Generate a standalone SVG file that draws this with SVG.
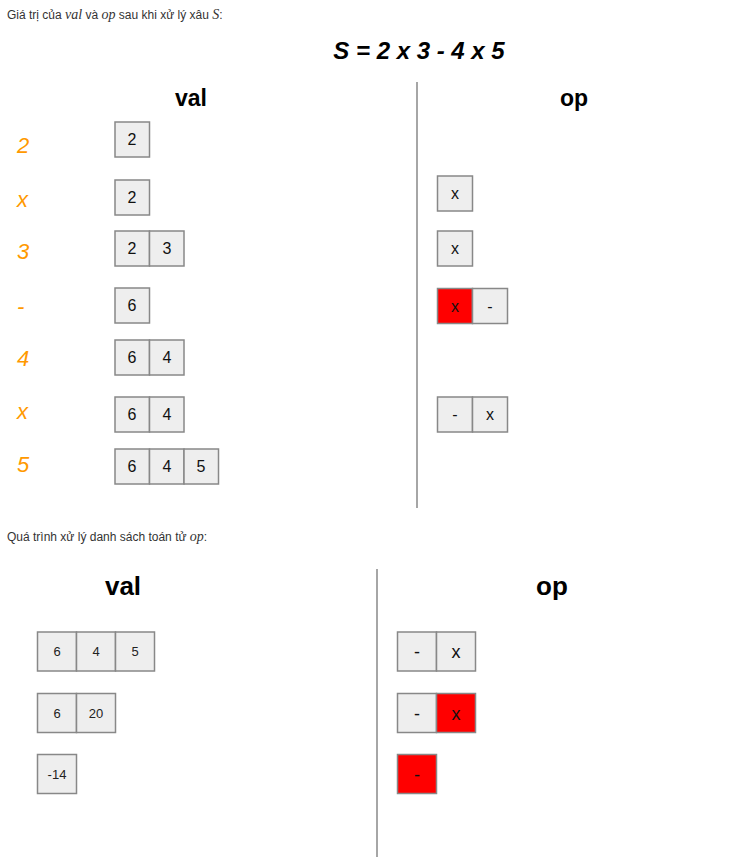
<svg xmlns="http://www.w3.org/2000/svg" width="755" height="857" viewBox="0 0 755 857">
<style>
.cap{font-family:"Liberation Sans",Arial,sans-serif;font-size:12px;fill:#333}
.m{font-family:"Liberation Serif","DejaVu Serif",serif;font-style:italic;font-size:14px}
.hd{font-family:"Liberation Sans",Arial,sans-serif;font-weight:bold;fill:#000;text-anchor:middle}
.lb{font-family:"Liberation Sans",Arial,sans-serif;font-style:italic;font-size:22px;fill:#ff9900}
.c{fill:#eeeeee;stroke:#888;stroke-width:1.5}
.r{fill:#ff0000;stroke:#888;stroke-width:1.5}
.t{font-family:"Liberation Sans",Arial,sans-serif;font-size:16px;fill:#111;text-anchor:middle}
.tb{font-family:"Liberation Sans",Arial,sans-serif;font-size:18px;fill:#111;text-anchor:middle}
.ts{font-family:"Liberation Sans",Arial,sans-serif;font-size:13px;fill:#222;text-anchor:middle}
.ln{stroke:#888;stroke-width:1.5}
</style>
<text class="cap" x="7" y="19">Giá trị của <tspan class="m">val</tspan> và <tspan class="m">op</tspan> sau khi xử lý xâu <tspan class="m">S</tspan>:</text>
<text class="hd" x="419" y="59" font-size="24" font-style="italic">S = 2 x 3 - 4 x 5</text>
<text class="hd" x="191" y="106" font-size="23">val</text>
<text class="hd" x="574" y="106" font-size="23">op</text>
<line class="ln" x1="417" y1="82" x2="417" y2="508"/>
<g id="labels">
<text class="lb" x="17" y="153">2</text>
<text class="lb" x="17" y="207">x</text>
<text class="lb" x="17" y="259">3</text>
<text class="lb" x="17" y="314">-</text>
<text class="lb" x="17" y="366">4</text>
<text class="lb" x="17" y="419">x</text>
<text class="lb" x="17" y="472">5</text>
</g>
<g id="val1"><rect class="c" x="115" y="122" width="34.5" height="35"/><text class="t" x="132" y="145">2</text></g>
<g id="val2"><rect class="c" x="115" y="180" width="34.5" height="35"/><text class="t" x="132" y="203">2</text></g>
<g id="val3"><rect class="c" x="115" y="231" width="34.5" height="35"/><rect class="c" x="149.5" y="231" width="34.5" height="35"/><text class="t" x="132" y="254">2</text><text class="t" x="167" y="254">3</text></g>
<g id="val4"><rect class="c" x="115" y="288" width="34.5" height="35"/><text class="t" x="132" y="311">6</text></g>
<g id="val5"><rect class="c" x="115" y="340" width="34.5" height="35"/><rect class="c" x="149.5" y="340" width="34.5" height="35"/><text class="t" x="132" y="363">6</text><text class="t" x="167" y="363">4</text></g>
<g id="val6"><rect class="c" x="115" y="397" width="34.5" height="35"/><rect class="c" x="149.5" y="397" width="34.5" height="35"/><text class="t" x="132" y="420">6</text><text class="t" x="167" y="420">4</text></g>
<g id="val7"><rect class="c" x="115" y="449" width="34.5" height="35"/><rect class="c" x="149.5" y="449" width="34.5" height="35"/><rect class="c" x="184" y="449" width="34.5" height="35"/><text class="t" x="132" y="472">6</text><text class="t" x="167" y="472">4</text><text class="t" x="201" y="472">5</text></g>
<g id="op2"><rect class="c" x="437.5" y="176" width="35" height="35"/><text class="t" x="455" y="199">x</text></g>
<g id="op3"><rect class="c" x="437.5" y="231" width="35" height="35"/><text class="t" x="455" y="254">x</text></g>
<g id="op4"><rect class="r" x="437.5" y="288.5" width="35" height="35"/><rect class="c" x="472.5" y="288.5" width="35" height="35"/><text class="t" x="455" y="312">x</text><text class="t" x="490" y="312">-</text></g>
<g id="op6"><rect class="c" x="437.5" y="397" width="35" height="35"/><rect class="c" x="472.5" y="397" width="35" height="35"/><text class="t" x="455" y="420">-</text><text class="t" x="490" y="420">x</text></g>
<text class="cap" x="7" y="541">Quá trình xử lý danh sách toán tử <tspan class="m">op</tspan>:</text>
<text class="hd" x="123" y="595" font-size="26">val</text>
<text class="hd" x="552" y="595" font-size="26">op</text>
<line class="ln" x1="377" y1="569" x2="377" y2="857"/>
<g id="bval1"><rect class="c" x="37.5" y="632" width="39" height="39"/><rect class="c" x="76.5" y="632" width="39" height="39"/><rect class="c" x="115.5" y="632" width="39" height="39"/><text class="ts" x="57" y="656">6</text><text class="ts" x="96" y="656">4</text><text class="ts" x="135" y="656">5</text></g>
<g id="bval2"><rect class="c" x="37.5" y="693.5" width="39" height="39"/><rect class="c" x="76.5" y="693.5" width="39" height="39"/><text class="ts" x="57" y="717.5">6</text><text class="ts" x="96" y="717.5">20</text></g>
<g id="bval3"><rect class="c" x="37.5" y="754.5" width="39" height="39"/><text class="ts" x="57" y="778.5">-14</text></g>
<g id="bop1"><rect class="c" x="397.5" y="632" width="39" height="39"/><rect class="c" x="436.5" y="632" width="39" height="39"/><text class="tb" x="417" y="658">-</text><text class="tb" x="456" y="658">x</text></g>
<g id="bop2"><rect class="c" x="397.5" y="693.5" width="39" height="39"/><rect class="r" x="436.5" y="693.5" width="39" height="39"/><text class="tb" x="417" y="719.5">-</text><text class="tb" x="456" y="719.5">x</text></g>
<g id="bop3"><rect class="r" x="397.5" y="754.5" width="39" height="39"/><text class="tb" x="417" y="780.5">-</text></g>
</svg>
